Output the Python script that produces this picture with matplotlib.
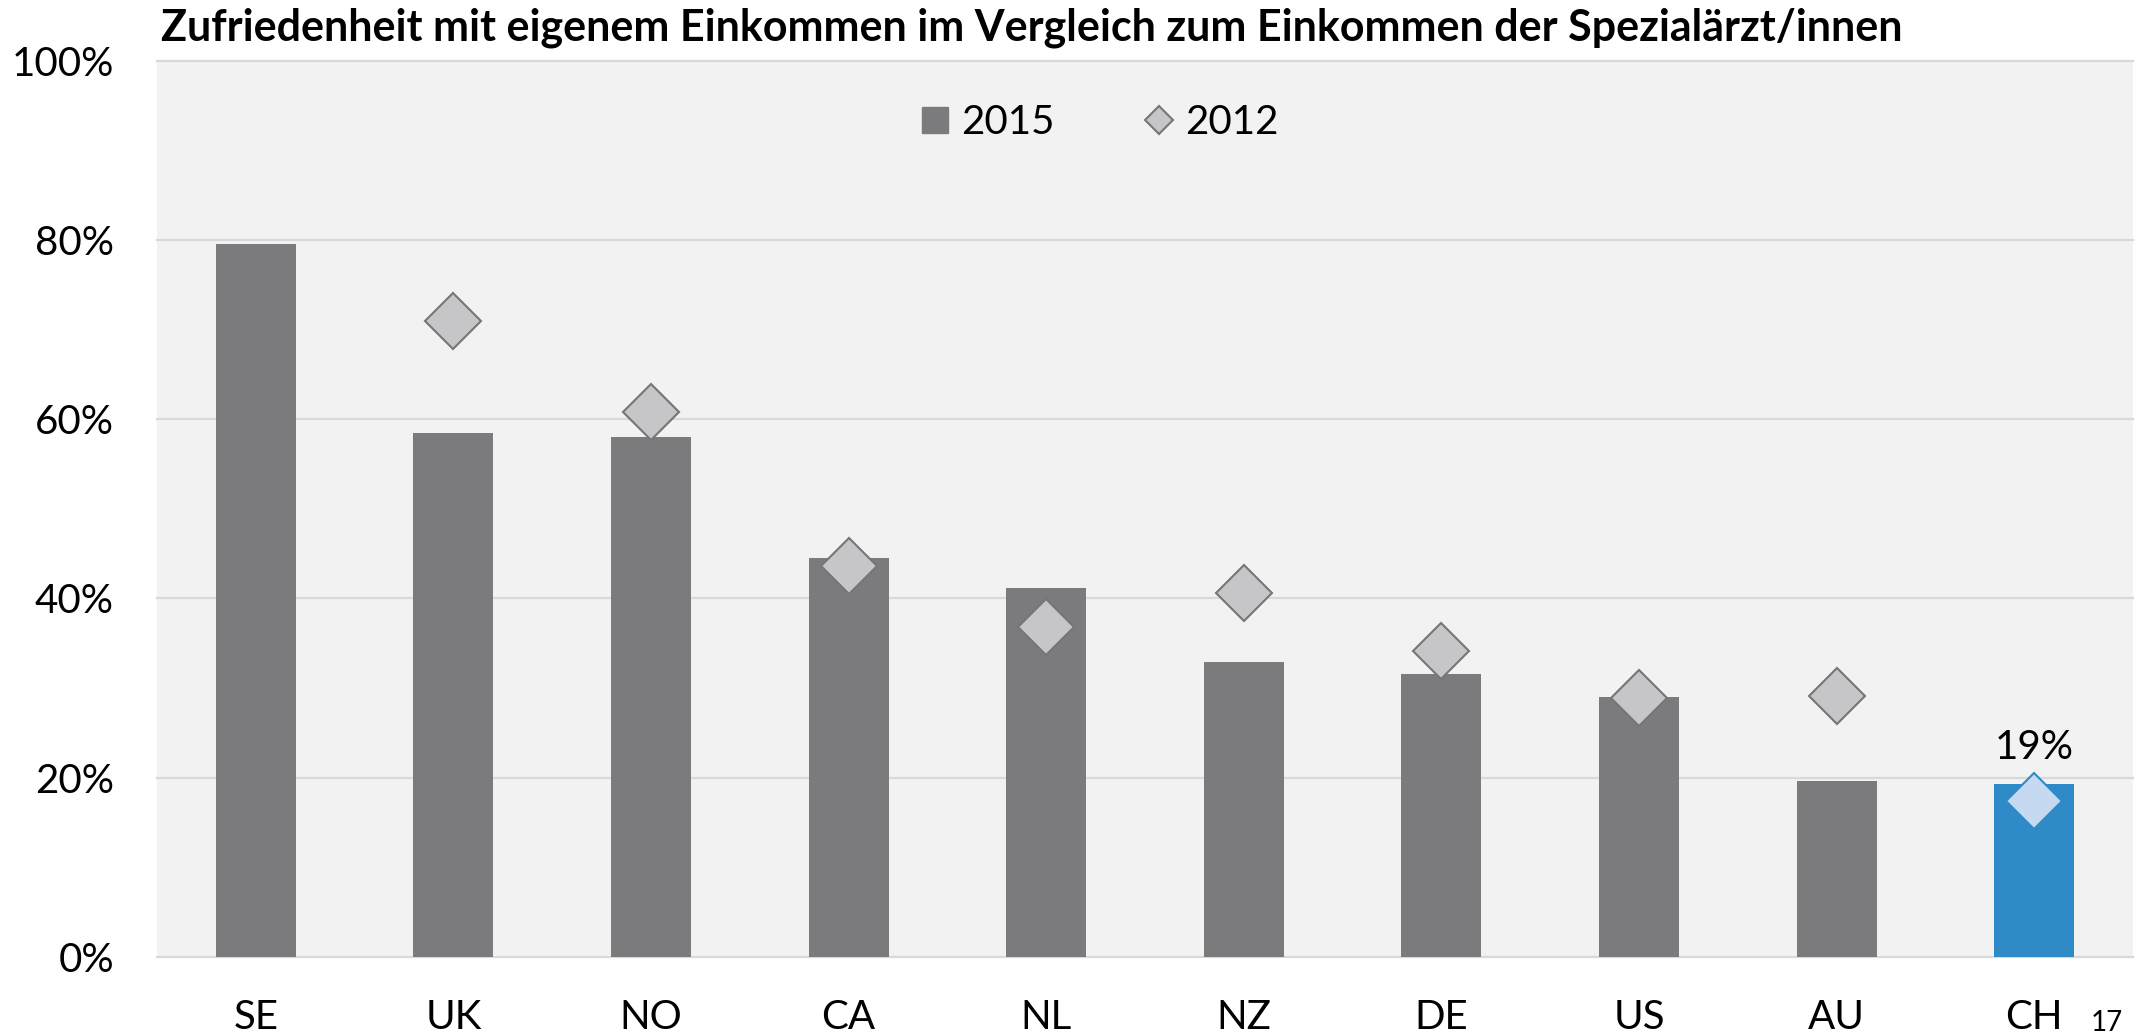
import matplotlib
matplotlib.use("Agg")
import matplotlib.pyplot as plt
from matplotlib.lines import Line2D
from matplotlib.ticker import FuncFormatter

# ---- data ----
countries = ["SE", "UK", "NO", "CA", "NL", "NZ", "DE", "US", "AU", "CH"]
values_2015 = [79.5, 58.4, 58.0, 44.5, 41.2, 32.9, 31.6, 29.0, 19.6, 19.3]
values_2012 = [None, 70.9, 60.8, 43.6, 36.8, 40.6, 34.1, 28.9, 29.1, 17.4]
highlight = "CH"
highlight_label = "19%"
y_ticks = [0, 20, 40, 60, 80, 100]
title = "Zufriedenheit mit eigenem Einkommen im Vergleich zum Einkommen der Spezialärzt/innen"
page_number = "17"

# ---- style ----
FONT = ["Lato", "DejaVu Sans"]
plt.rcParams["font.family"] = FONT
BAR = "#7b7b7d"
BAR_HL = "#2e8bc8"
DIA_FACE = "#c6c6c8"
DIA_EDGE = "#767676"
DIA_HL_FACE = "#c5d9f0"
BG = "#f2f2f2"
GRID = "#d9d9d9"

W, H, DPI = 2143, 1035, 100
fig = plt.figure(figsize=(W / DPI, H / DPI), dpi=DPI, facecolor="white")
ax = fig.add_axes([157 / W, 78 / H, (2133 - 157) / W, (957 - 60.5) / H])
ax.set_facecolor(BG)

x = list(range(len(countries)))
bar_colors = [BAR_HL if c == highlight else BAR for c in countries]
ax.bar(x, values_2015, width=0.405, color=bar_colors, zorder=2)

for i, (c, v) in enumerate(zip(countries, values_2012)):
    if v is None:
        continue
    hl = c == highlight
    ax.plot([i], [v], marker="D", markersize=28.5, linestyle="none",
            markerfacecolor=DIA_HL_FACE if hl else DIA_FACE,
            markeredgecolor=BAR_HL if hl else DIA_EDGE,
            markeredgewidth=1.5, zorder=3)

hi = countries.index(highlight)
ax.annotate(highlight_label, xy=(hi, values_2015[hi]), xytext=(0, 18),
            textcoords="offset points", ha="center", va="baseline",
            fontsize=29, color="black")

ax.set_xlim(-0.5, len(countries) - 0.5)
ax.set_ylim(0, 100)
ax.set_yticks(y_ticks)
ax.yaxis.set_major_formatter(FuncFormatter(lambda v, p: f"{v:.0f}%"))
ax.set_xticks(x)
ax.set_xticklabels(countries)
ax.tick_params(axis="both", length=0, labelsize=29, colors="black")
ax.tick_params(axis="y", pad=31)
ax.tick_params(axis="x", pad=30)
for s in ax.spines.values():
    s.set_visible(False)
for t in y_ticks:
    ax.axhline(t, color=GRID, linewidth=1.6, zorder=1, clip_on=False)

handles = [
    Line2D([], [], marker="s", markersize=18.7, linestyle="none",
           color=BAR, label="2015"),
    Line2D([], [], marker="D", markersize=14, linestyle="none",
           markerfacecolor=DIA_FACE, markeredgecolor=DIA_EDGE,
           markeredgewidth=1.5, label="2012"),
]
fig.legend(handles=handles, loc="center", bbox_to_anchor=(1097 / W, 1 - 123 / H),
           ncol=2, frameon=False, fontsize=29, handlelength=1.0,
           handletextpad=0.15, columnspacing=2.1)

fig.text(161 / W, 1 - 40 / H, title, fontsize=31, fontweight="bold",
         ha="left", va="baseline", color="black")
fig.text(2107 / W, 1 - 1023 / H, page_number, fontsize=20, ha="center",
         va="center", color="black")

fig.savefig("out.png", dpi=DPI, facecolor="white")
